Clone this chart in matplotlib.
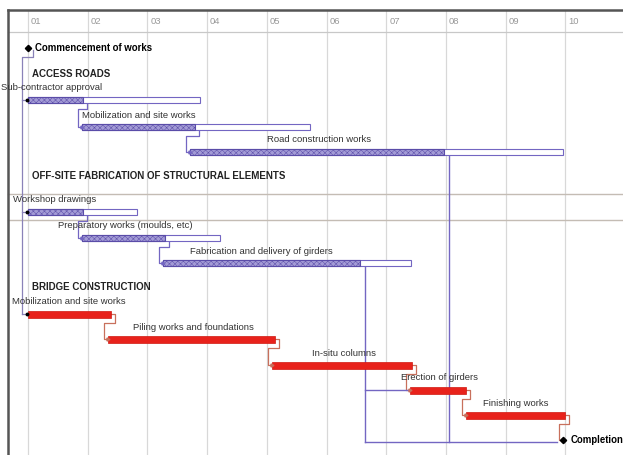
import numpy as np
import matplotlib as mpl
import matplotlib.pyplot as plt
mpl.use('agg')

plt.rcParams['font.family'] = ['Liberation Sans', 'DejaVu Sans']
plt.rcParams['hatch.linewidth'] = 0.35

##--##--##--  data (x in months from start of month 01)  --##--##--##
months = ["01", "02", "03", "04", "05", "06", "07", "08", "09", "10"]

access_tasks = ["Sub-contractor approval", "Mobilization and site works", "Road construction works"]
access_start = [0.00, 0.90, 2.71]
access_end = [2.88, 4.72, 8.96]
access_done = [0.92, 2.80, 6.97]

fab_tasks = ["Workshop drawings", "Preparatory works (moulds, etc)", "Fabrication and delivery of girders"]
fab_start = [0.00, 0.90, 2.26]
fab_end = [1.83, 3.22, 6.42]
fab_done = [0.92, 2.29, 5.56]

bridge_tasks = ["Mobilization and site works", "Piling works and foundations", "In-situ columns",
                "Erection of girders", "Finishing works"]
bridge_start = [0.00, 1.34, 4.09, 6.40, 7.34]
bridge_end = [1.39, 4.14, 6.43, 7.34, 9.00]

milestone_names = ["Commencement of works", "Completion"]
milestone_at = [0.00, 8.96]

##--##--##--  layout  --##--##--##
PX = 1.0 / 59.7            # one pixel in months
access_y = [100, 127, 152]
fab_y = [212, 238, 263]
bridge_y = [314, 339, 365, 390, 415]
milestone_y = [48, 440]
access_lx = [-0.46, 0.90, 4.00]
fab_lx = [-0.25, 0.50, 2.71]
bridge_lx = [-0.27, 1.76, 4.76, 6.25, 7.62]

purple = '#7366c2'
purple_fill = '#a39bd6'
red = '#e8221b'
red_link = '#c8705c'
grid_c = '#d8d8d8'

fig = plt.figure(figsize=(6.23, 4.55), dpi=100)
ax = fig.add_axes([0, 0, 1, 1])
ax.set_xlim(-28 * PX, 595 * PX)
ax.set_ylim(455, 0)
ax.axis('off')

x_left = -20 * PX
x_right = 595 * PX

# frame, header and gridlines
for i, m in enumerate(months):
    ax.plot([i, i], [10, 455], color=grid_c, lw=0.9, zorder=0)
    ax.text(i + 3 * PX, 21, m, fontsize=6.8, color='#999999', va='center', ha='left')
ax.plot([x_left, x_right], [32, 32], color='#c8c8c8', lw=0.9, zorder=1)
ax.plot([x_left, x_right], [10, 10], color='#555555', lw=1.8, zorder=3)
ax.plot([x_left, x_left], [10, 455], color='#555555', lw=1.8, zorder=3)
for yy in [194, 220]:
    ax.plot([x_left, x_right], [yy, yy], color='#c4bcb4', lw=1.0, zorder=1)

# group headings
ax.text(0.07, 74, "ACCESS ROADS", fontsize=7.0, fontweight='bold', va='center', color='#222222')
ax.text(0.07, 176, "OFF-SITE FABRICATION OF STRUCTURAL ELEMENTS", fontsize=7.0, fontweight='bold',
        va='center', color='#222222')
ax.text(0.07, 287, "BRIDGE CONSTRUCTION", fontsize=7.0, fontweight='bold', va='center', color='#222222')


def elbow(ax, x0, y0, x1, y1, color):
    xs = [x0, x0 + 4 * PX, x0 + 4 * PX, x1 - 4 * PX, x1 - 4 * PX, x1]
    ys = [y0, y0, y0 + 9, y0 + 9, y1, y1]
    ax.plot(xs, ys, color=color, lw=0.9, zorder=2)
    ax.plot(x1, y1, marker='>', ms=2.2, color=color, zorder=4)


# purple groups: outline (planned) plus hatched (done)
for names, s, e, d, ys, lx in [(access_tasks, access_start, access_end, access_done, access_y, access_lx),
                               (fab_tasks, fab_start, fab_end, fab_done, fab_y, fab_lx)]:
    ax.barh(ys, np.array(e) - np.array(s), left=s, height=6, color='white', edgecolor=purple, lw=0.8, zorder=3)
    ax.barh(ys, np.array(d) - np.array(s), left=s, height=6, color=purple_fill, edgecolor='#5a4ca8',
            hatch='xxxxxx', lw=0.8, zorder=3)
    for i in range(len(names)):
        ax.text(lx[i], ys[i] - 12, names[i], fontsize=6.8, va='center', ha='left', color='#333333')
    for i in range(len(names) - 1):
        elbow(ax, d[i], ys[i], s[i + 1], ys[i + 1], purple)

# red bridge bars
ax.barh(bridge_y, np.array(bridge_end) - np.array(bridge_start), left=bridge_start, height=7,
        color=red, edgecolor='#d01810', lw=0.5, zorder=3)
for i in range(len(bridge_tasks)):
    ax.text(bridge_lx[i], bridge_y[i] - 12, bridge_tasks[i], fontsize=6.8, va='center', ha='left', color='#333333')
for i in range(len(bridge_tasks) - 1):
    elbow(ax, bridge_end[i], bridge_y[i], bridge_start[i + 1], bridge_y[i + 1], red_link)

# milestones
ax.plot(milestone_at, milestone_y, 'D', ms=3.2, color='black', zorder=5)
ax.text(milestone_at[0] + 7 * PX, milestone_y[0], milestone_names[0], fontsize=6.9, fontweight='bold', va='center')
ax.text(milestone_at[1] + 8 * PX, milestone_y[1], milestone_names[1], fontsize=6.9, fontweight='bold', va='center')

# commencement link into the first task of each group
cx = milestone_at[0] - 6 * PX
ax.plot([milestone_at[0] + 5 * PX, milestone_at[0] + 5 * PX, cx, cx],
        [milestone_y[0] + 2, milestone_y[0] + 9, milestone_y[0] + 9, bridge_y[0]], color='#8a82b8', lw=0.9, zorder=2)
for yy in [access_y[0], fab_y[0], bridge_y[0]]:
    ax.plot([cx, milestone_at[0]], [yy, yy], color='#8a82b8', lw=0.9, zorder=2)
    ax.plot(milestone_at[0] - 1 * PX, yy, marker='o', ms=1.8, color='black', zorder=4)

# links into the completion milestone
road_x = access_done[2] + 5 * PX
fab_x = fab_done[2] + 5 * PX
ax.plot([access_done[2], road_x, road_x], [access_y[2], access_y[2], 442], color=purple, lw=1.0, zorder=2)
ax.plot([fab_done[2], fab_x, fab_x], [fab_y[2], fab_y[2], 442], color=purple, lw=1.0, zorder=2)
ax.plot([fab_x, bridge_start[3]], [bridge_y[3], bridge_y[3]], color=purple, lw=1.0, zorder=2)
ax.plot([fab_x, milestone_at[1] - 6 * PX], [442, 442], color=purple, lw=1.0, zorder=2)
elbow(ax, bridge_end[4], bridge_y[4], milestone_at[1], milestone_y[1], red_link)

fig.savefig('out.png', dpi=100)
